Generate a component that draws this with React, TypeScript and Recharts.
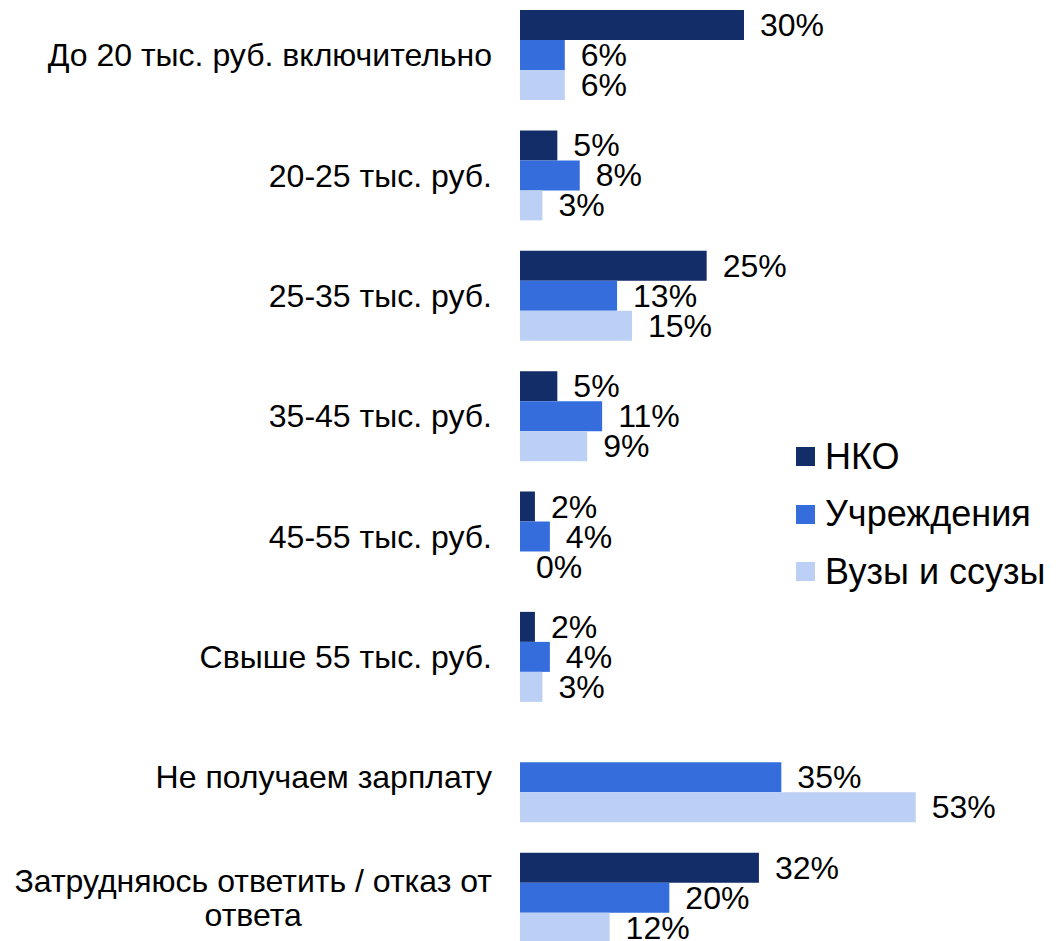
import { Bar, BarChart, LabelList, Legend, XAxis, YAxis } from "recharts";

const categories = [
  "До 20 тыс. руб. включительно",
  "20-25 тыс. руб.",
  "25-35 тыс. руб.",
  "35-45 тыс. руб.",
  "45-55 тыс. руб.",
  "Свыше 55 тыс. руб.",
  "Не получаем зарплату",
  "Затрудняюсь ответить / отказ от ответа",
];

const nko = [30, 5, 25, 5, 2, 2, null, 32];
const uchrezhdeniya = [6, 8, 13, 11, 4, 4, 35, 20];
const vuzy = [6, 3, 15, 9, 0, 3, 53, 12];

const series = [
  { key: "nko", name: "НКО", color: "#132d69" },
  { key: "uchr", name: "Учреждения", color: "#356ddd" },
  { key: "vuzy", name: "Вузы и ссузы", color: "#bccff4" },
];

const data = categories.map((name, i) => ({
  name,
  nko: nko[i],
  uchr: uchrezhdeniya[i],
  vuzy: vuzy[i],
}));

const FONT = '"Liberation Sans", Arial, sans-serif';
const FS = 32;
const LEGEND_FS = 36;

let ctx: CanvasRenderingContext2D | null = null;
function textWidth(s: string) {
  if (!ctx) ctx = document.createElement("canvas").getContext("2d");
  if (!ctx) return s.length * FS * 0.5;
  ctx.font = `${FS}px ${FONT}`;
  return ctx.measureText(s).width;
}

function wrap(s: string, max = 32) {
  const lines: string[] = [];
  let cur = "";
  for (const w of s.split(" ")) {
    const next = cur ? cur + " " + w : w;
    if (next.length > max && cur) {
      lines.push(cur);
      cur = w;
    } else cur = next;
  }
  if (cur) lines.push(cur);
  return lines;
}

function CategoryTick({ y, payload }: any) {
  const right = 492;
  const lines = wrap(payload.value);
  const lh = 34;
  const top = y - ((lines.length - 1) * lh) / 2;
  const w0 = textWidth(lines[0]);
  return (
    <g>
      {lines.map((l, i) => (
        <text
          key={i}
          x={lines.length > 1 ? right - w0 / 2 : right}
          y={top + i * lh}
          textAnchor={lines.length > 1 ? "middle" : "end"}
          dominantBaseline="central"
          fontSize={FS}
          fontFamily={FONT}
          fill="#000"
        >
          {l}
        </text>
      ))}
    </g>
  );
}

function ValueLabel({ x, y, width, height, value }: any) {
  if (value == null) return null;
  return (
    <text
      x={x + width + 16}
      y={y + height / 2}
      dominantBaseline="central"
      fontSize={FS}
      fontFamily={FONT}
      fill="#000"
    >
      {value}%
    </text>
  );
}

function LegendBox() {
  return (
    <div style={{ fontFamily: FONT, fontSize: LEGEND_FS, color: "#000" }}>
      {series.map((s) => (
        <div key={s.key} style={{ display: "flex", alignItems: "center", height: 57.5 }}>
          <span style={{ width: 19, height: 19, background: s.color, marginRight: 10, flex: "none" }} />
          <span style={{ whiteSpace: "nowrap" }}>{s.name}</span>
        </div>
      ))}
    </div>
  );
}

export default function App() {
  return (
    <div
      style={{
        position: "absolute",
        top: 0,
        left: 0,
        width: 1056,
        height: 941,
        overflow: "hidden",
        background: "#fff",
      }}
    >
      <div style={{ position: "absolute", top: -5, left: 0 }}>
        <BarChart
          layout="vertical"
          width={1056}
          height={963}
          data={data}
          margin={{ top: 0, right: 88, bottom: 0, left: 0 }}
          barGap={0}
        >
          <XAxis type="number" domain={[0, 60]} hide />
          <YAxis
            type="category"
            dataKey="name"
            width={520}
            axisLine={false}
            tickLine={false}
            interval={0}
            tick={<CategoryTick />}
          />
          <Legend
            layout="vertical"
            align="center"
            verticalAlign="middle"
            content={() => <LegendBox />}
            wrapperStyle={{ left: 796, top: 433, width: 260 }}
          />
          {series.map((s) => (
            <Bar
              key={s.key}
              dataKey={s.key}
              name={s.name}
              fill={s.color}
              barSize={30}
              minPointSize={0.01}
              isAnimationActive={false}
            >
              <LabelList dataKey={s.key} content={<ValueLabel />} />
            </Bar>
          ))}
        </BarChart>
      </div>
    </div>
  );
}
